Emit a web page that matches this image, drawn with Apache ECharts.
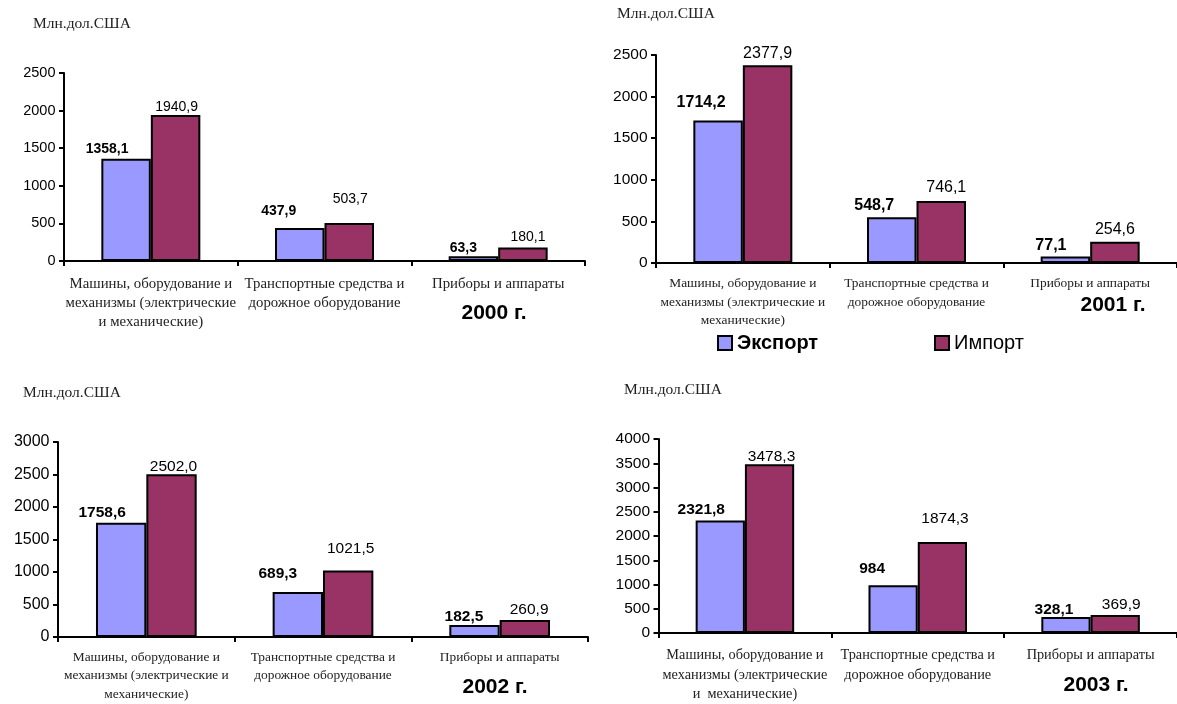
<!DOCTYPE html>
<html>
<head>
<meta charset="utf-8">
<script src="https://cdn.jsdelivr.net/npm/echarts@6/dist/echarts.min.js"></script>
<style>
  html, body { margin: 0; padding: 0; background: #ffffff; }
  #chart { width: 1177px; height: 704px; }
</style>
</head>
<body>
<div id="chart"></div>
<script>
// Commodity groups, one list per year (line breaks as printed under the axis)
const categories2000 = ['Машины, оборудование и\nмеханизмы (электрические\nи механические)', 'Транспортные средства и\nдорожное оборудование', 'Приборы и аппараты'];
const categories2001 = ['Машины, оборудование и\nмеханизмы (электрические и\nмеханические)', 'Транспортные средства и\nдорожное оборудование', 'Приборы и аппараты'];
const categories2002 = ['Машины, оборудование и\nмеханизмы (электрические и\nмеханические)', 'Транспортные средства и\nдорожное оборудование', 'Приборы и аппараты'];
const categories2003 = ['Машины, оборудование и\nмеханизмы (электрические\nи  механические)', 'Транспортные средства и\nдорожное оборудование', 'Приборы и аппараты'];

// Values in million US dollars, kept in their printed form
const export2000 = ['1358.1', '437.9', '63.3'];
const import2000 = ['1940.9', '503.7', '180.1'];
const export2001 = ['1714.2', '548.7', '77.1'];
const import2001 = ['2377.9', '746.1', '254.6'];
const export2002 = ['1758.6', '689.3', '182.5'];
const import2002 = ['2502.0', '1021.5', '260.9'];
const export2003 = ['2321.8', '984', '328.1'];
const import2003 = ['3478.3', '1874.3', '369.9'];

// Value axis tops (ticks every 500)
const axisMax = [2500, 2500, 3000, 4000];
const tickStep = 500;

const years = ['2000 г.', '2001 г.', '2002 г.', '2003 г.'];
const seriesNames = ['Экспорт', 'Импорт'];
const unitText = 'Млн.дол.США';

const SANS = '"Liberation Sans", Arial, sans-serif';
const SERIF = '"Liberation Serif", "Times New Roman", serif';
const EXPORT_COLOR = '#9999FF';
const IMPORT_COLOR = '#993366';

// Panel layout and typography
const panels = [
  { cats: categories2000, exp: export2000, imp: import2000,
    grid: { left: 64, top: 73, width: 521, height: 188 },
    tickFont: 14.5, valFont: 14, catFont: 14.8, catLine: 19, catMargin: 13.5,
    expShift: [[-19, -10], [-21, -17], [-10, -8]],
    impShift: [[1, -8], [1, -24], [5, -10]],
    unitAt: [33, 24], yearAt: [494, 313] },
  { cats: categories2001, exp: export2001, imp: import2001,
    grid: { left: 656, top: 55, width: 526, height: 208 },
    tickFont: 15.5, valFont: 16, catFont: 13.4, catLine: 18.5, catMargin: 11.5,
    expShift: [[-17, -18], [-17.5, -11.5], [-14.5, -11]],
    impShift: [[0, -12], [5, -13.5], [0, -12.5]],
    unitAt: [617, 14], yearAt: [1113, 305] },
  { cats: categories2002, exp: export2002, imp: import2002,
    grid: { left: 58, top: 442, width: 530, height: 199 },
    tickFont: 16, valFont: 15.5, catFont: 13.4, catLine: 18.7, catMargin: 11,
    expShift: [[-19, -10], [-20, -18], [-10.5, -8]],
    impShift: [[2, -8], [2.5, -22], [4.3, -10]],
    unitAt: [23, 393], yearAt: [495, 687] },
  { cats: categories2003, exp: export2003, imp: import2003,
    grid: { left: 658.5, top: 439, width: 530, height: 197 },
    tickFont: 15.5, valFont: 15.5, catFont: 14.3, catLine: 19.5, catMargin: 12.5,
    expShift: [[-19, -11], [-21, -17], [-12, -7]],
    impShift: [[2, -8], [2.6, -23], [6, -10]],
    unitAt: [624, 390], yearAt: [1096, 685] }
];

const fmt = p => String(p.data.value).replace('.', ',');

const grids = [], xAxes = [], yAxes = [], series = [], graphics = [];

panels.forEach((p, i) => {
  grids.push(Object.assign({ containLabel: false }, p.grid));

  xAxes.push({
    type: 'category', gridIndex: i, data: p.cats, boundaryGap: true,
    axisLine: { show: true, lineStyle: { color: '#000', width: 2 } },
    axisTick: { show: true, length: 5, lineStyle: { color: '#000', width: 2 } },
    axisLabel: { interval: 0, color: '#222', fontFamily: SERIF, fontSize: p.catFont,
      lineHeight: p.catLine, margin: p.catMargin },
    splitLine: { show: false }
  });

  yAxes.push({
    type: 'value', gridIndex: i, min: 0, max: axisMax[i], interval: tickStep,
    axisLine: { show: true, lineStyle: { color: '#000', width: 2 } },
    axisTick: { show: true, length: 5, lineStyle: { color: '#000', width: 2 } },
    axisLabel: { color: '#000', fontFamily: SANS, fontSize: p.tickFont, margin: 8.5,
      formatter: v => String(v) },
    splitLine: { show: false }
  });

  const mk = (vals, shifts) => vals.map((v, k) => ({ value: v, label: { offset: shifts[k] } }));

  [[p.exp, p.expShift, EXPORT_COLOR, 'bold'], [p.imp, p.impShift, IMPORT_COLOR, 'normal']]
    .forEach(([vals, shifts, color, weight], s) => {
      series.push({
        type: 'bar', name: seriesNames[s], xAxisIndex: i, yAxisIndex: i,
        data: mk(vals, shifts),
        barGap: '0%', barCategoryGap: '43%',
        itemStyle: { color: color, borderColor: '#000', borderWidth: 2 },
        emphasis: { disabled: true },
        label: { show: true, position: 'top', distance: 0, verticalAlign: 'middle',
          align: 'center', color: '#000', fontFamily: SANS, fontSize: p.valFont,
          fontWeight: weight, formatter: fmt }
      });
    });

  graphics.push({
    type: 'text', x: p.unitAt[0], y: p.unitAt[1],
    style: { text: unitText, fill: '#222', font: '15.5px ' + SERIF, verticalAlign: 'middle', align: 'left' }
  });
  graphics.push({
    type: 'text', x: p.yearAt[0], y: p.yearAt[1],
    style: { text: years[i], fill: '#000', font: 'bold 21px ' + SANS, verticalAlign: 'middle', align: 'center' }
  });
});

const legendBase = {
  padding: 0, itemWidth: 14, itemHeight: 14, icon: 'rect', itemGap: 0,
  selectedMode: false, top: 333,
  itemStyle: { borderColor: '#000', borderWidth: 2 }
};

const chart = echarts.init(document.getElementById('chart'), null, { renderer: 'canvas' });
chart.setOption({
  animation: false,
  backgroundColor: '#ffffff',
  grid: grids,
  xAxis: xAxes,
  yAxis: yAxes,
  series: series,
  legend: [
    Object.assign({}, legendBase, { data: [seriesNames[0]], left: 717,
      textStyle: { color: '#000', fontFamily: SANS, fontSize: 20, fontWeight: 'bold' } }),
    Object.assign({}, legendBase, { data: [seriesNames[1]], left: 934,
      textStyle: { color: '#000', fontFamily: SANS, fontSize: 20, fontWeight: 'normal' } })
  ],
  graphic: graphics
});
</script>
</body>
</html>
